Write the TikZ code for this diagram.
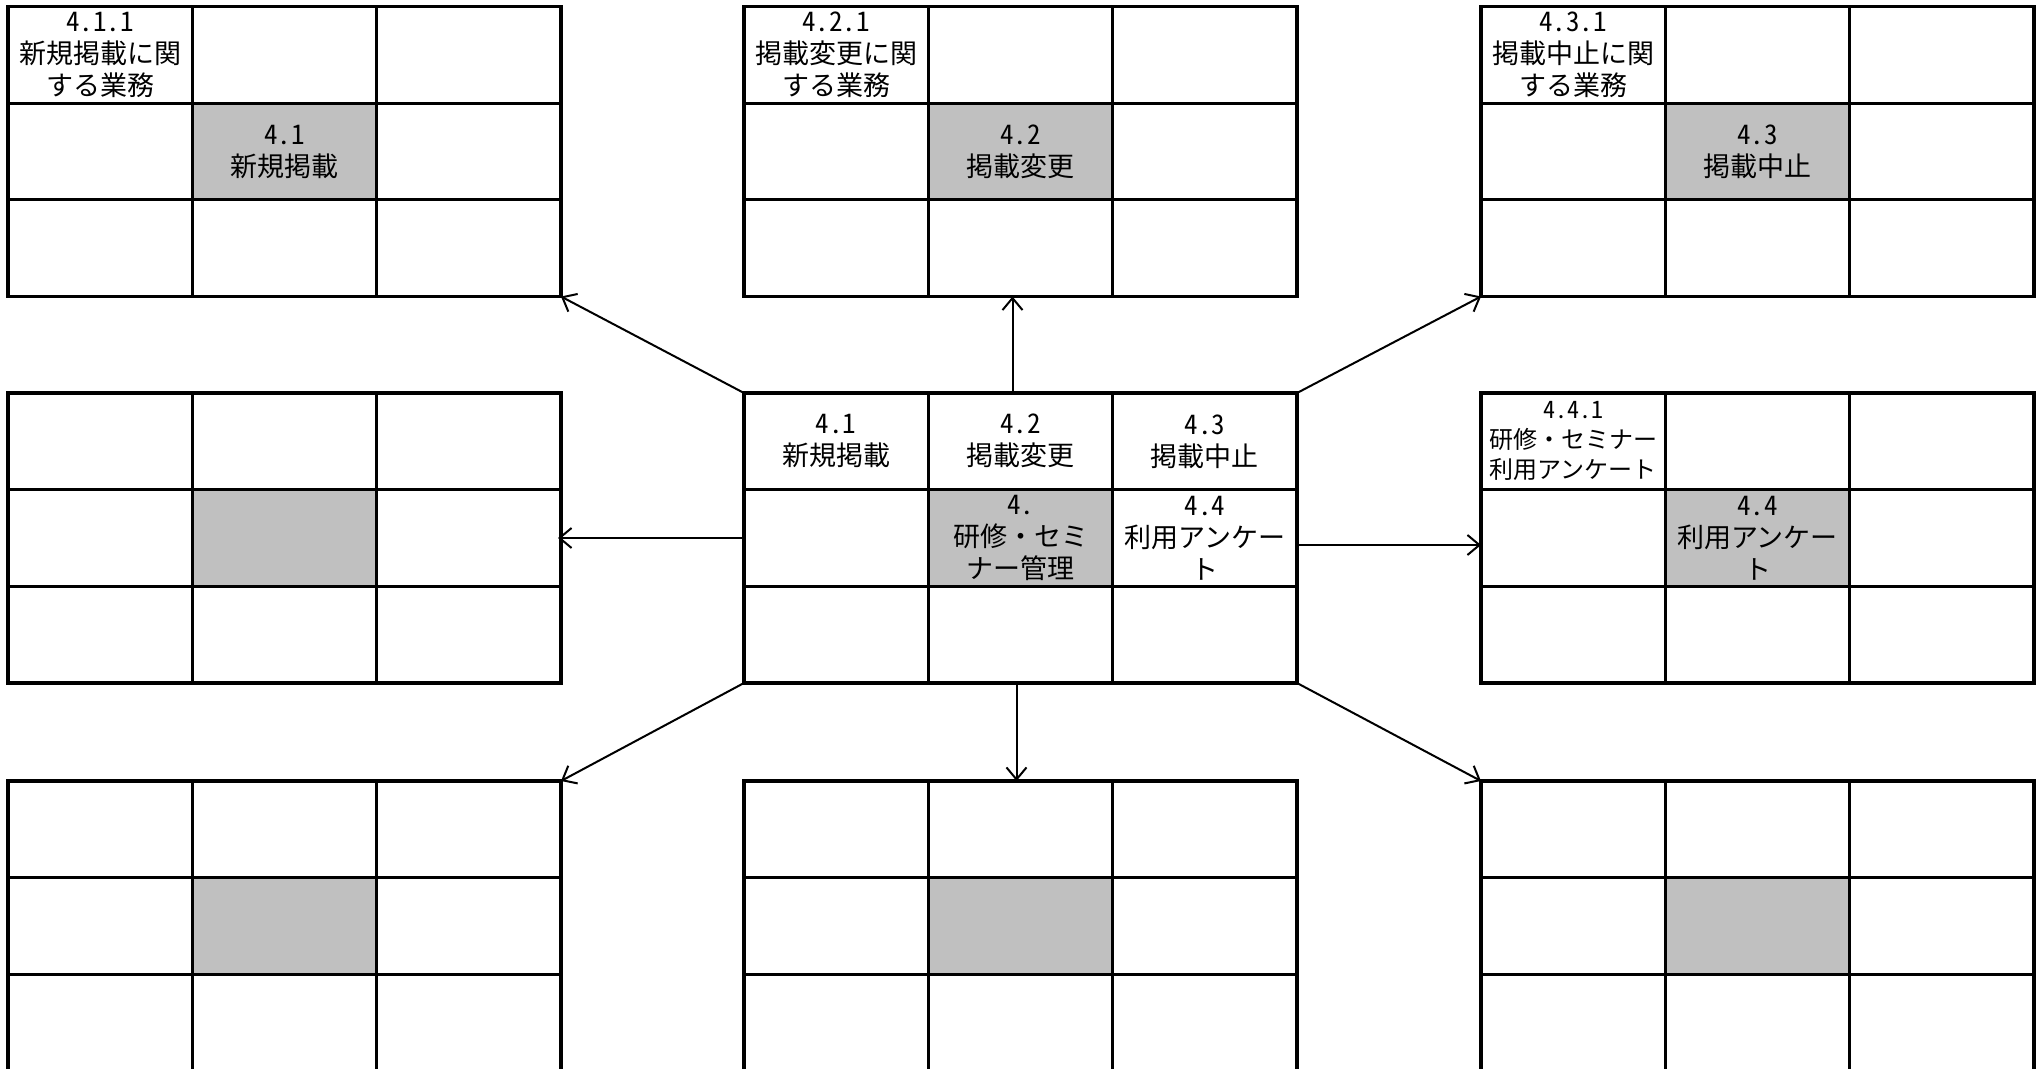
\documentclass[tikz,border=0pt]{standalone}
\usepackage{fontspec}
\setmainfont{Noto Sans CJK JP}
\newfontfamily\hw{Noto Sans CJK JP}[RawFeature=+hwid]
\usetikzlibrary{arrows.meta}
\definecolor{cellgray}{RGB}{192,192,192}
\newcommand\myblock[3]{%
  \fill[cellgray] ({#2+184.33},{#3+96.67}) rectangle ++(184.33,96.67);
  \draw[gridline] ({#2+184.33},#3) -- ++(0,290);
  \draw[gridline] ({#2+368.67},#3) -- ++(0,290);
  \draw[gridline] (#2,{#3+96.67}) -- ++(553,0);
  \draw[gridline] (#2,{#3+193.33}) -- ++(553,0);
  \node[blockbox] (#1) at ({#2+276.5},{#3+145}) {};
}
\begin{document}
\begin{tikzpicture}[x=0.5pt,y=-0.5pt,
  gridline/.style={line width=1.6pt},
  blockbox/.style={draw,line width=1.6pt,minimum width=276.5pt,minimum height=145pt,inner sep=0pt,outer sep=0pt},
  celltext/.style={align=center,font=\fontsize{13.5}{16}\selectfont,inner sep=0pt},
  smalltext/.style={align=center,font=\fontsize{12}{15}\selectfont,inner sep=0pt},
  conn/.style={line width=1pt,-{Straight Barb[length=6pt,width=10pt]}}]
\useasboundingbox (0,0) rectangle (2040,1069);
\fill[white] (0,0) rectangle (2040,1069);
% blocks
\myblock{TL}{8}{6.5}
\myblock{TM}{744}{6.5}
\myblock{TR}{1481}{6.5}
\myblock{ML}{8}{393}
\myblock{C}{744}{393}
\myblock{MR}{1481}{393}
\myblock{BL}{8}{781}
\myblock{BM}{744}{781}
\myblock{BR}{1481}{781}
% texts top-left
\node[celltext] (tla) at (100.2,54.8) {{\hw 4.1.1}\\新規掲載に関\\する業務};
\node[celltext] (tlc) at (284.5,151.5) {{\hw 4.1}\\新規掲載};
% top-middle
\node[celltext] (tma) at (836.2,54.8) {{\hw 4.2.1}\\掲載変更に関\\する業務};
\node[celltext] (tmc) at (1020.5,151.5) {{\hw 4.2}\\掲載変更};
% top-right
\node[celltext] (tra) at (1573.2,54.8) {{\hw 4.3.1}\\掲載中止に関\\する業務};
\node[celltext] (trc) at (1757.5,151.5) {{\hw 4.3}\\掲載中止};
% center
\node[celltext] (c1) at (836.2,441.3) {{\hw 4.1}\\新規掲載};
\node[celltext] (c2) at (1020.5,441.3) {{\hw 4.2}\\掲載変更};
\node[celltext] (c3) at (1204.8,441.3) {{\hw 4.3}\\掲載中止};
\node[celltext] (c5) at (1020.5,538) {{\hw 4.}\\研修・セミ\\ナー管理};
\node[celltext] (c6) at (1204.8,538) {{\hw 4.4}\\利用アンケー\\ト};
% middle-right
\node[smalltext] (mra) at (1573.2,441.3) {{\hw 4.4.1}\\研修・セミナー\\利用アンケート};
\node[celltext] (mrc) at (1757.5,538) {{\hw 4.4}\\利用アンケー\\ト};
% connectors
\draw[conn] (C.north west) -- (TL.south east);
\draw[conn] ([xshift=-4pt]C.north) -- ([xshift=-4pt]TM.south);
\draw[conn] (C.north east) -- (TR.south west);
\draw[conn] (C.west) -- ([xshift=-1.5pt]ML.east);
\draw[conn] ([yshift=-3.5pt]C.east) -- ([yshift=-3.5pt]MR.west);
\draw[conn] (C.south west) -- (BL.north east);
\draw[conn] ([xshift=-2pt]C.south) -- ([xshift=-2pt]BM.north);
\draw[conn] (C.south east) -- (BR.north west);
\end{tikzpicture}
\end{document}
